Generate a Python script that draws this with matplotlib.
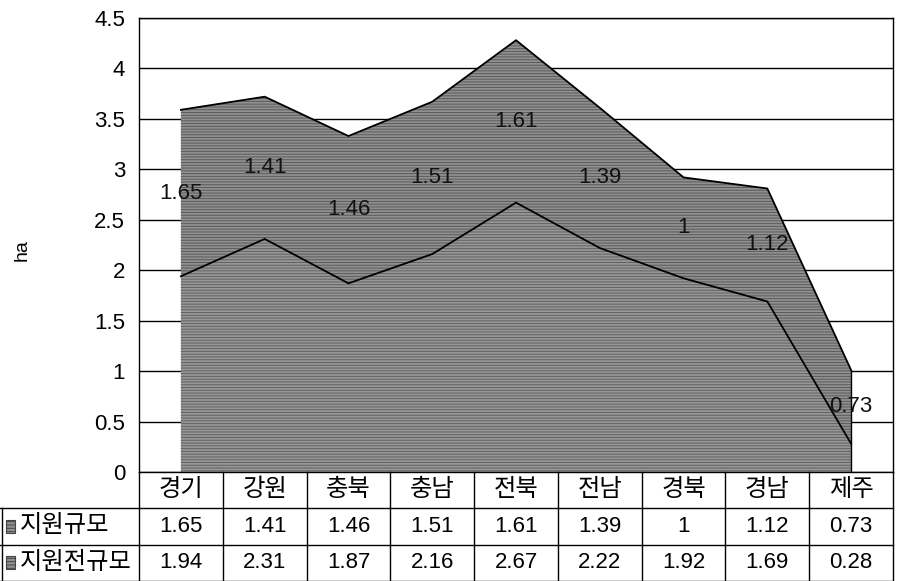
import numpy as np
import matplotlib.pyplot as plt
from matplotlib.patches import Rectangle

plt.rcParams['font.family'] = ['Liberation Sans', 'Noto Sans CJK KR', 'DejaVu Sans']
plt.rcParams['hatch.linewidth'] = 0.7

# regions and the two stacked series (ha)
regions = ['경기', '강원', '충북', '충남', '전북', '전남', '경북', '경남', '제주']
support = [1.65, 1.41, 1.46, 1.51, 1.61, 1.39, 1.00, 1.12, 0.73]      # 지원규모
before = [1.94, 2.31, 1.87, 2.16, 2.67, 2.22, 1.92, 1.69, 0.28]       # 지원전규모
series_names = ['지원규모', '지원전규모']
yticks = [0, 0.5, 1, 1.5, 2, 2.5, 3, 3.5, 4, 4.5]

x = np.arange(len(regions))
before = np.array(before)
support = np.array(support)
total = before + support

NUM_FS = 16
KOR_FS = 17.5

W, H = 898, 581
fig = plt.figure(figsize=(W / 100, H / 100), dpi=100)

# chart area
ax = fig.add_axes([139 / W, 109 / H, 754 / W, 454 / H])
ax.set_xlim(-0.5, 8.5)
ax.set_ylim(0, 4.5)
ax.set_yticks(yticks)
ax.set_yticklabels([f'{v:g}' for v in yticks], fontsize=NUM_FS)
ax.tick_params(axis='y', length=0, pad=10)
ax.set_xticks([])
ax.grid(axis='y', color='black', linewidth=1)
ax.set_axisbelow(True)
for s in ax.spines.values():
    s.set_color('black')
    s.set_linewidth(1)

ax.fill_between(x, 0, before, facecolor='#969696', edgecolor='#626262',
                hatch='------', linewidth=0, zorder=2)
ax.fill_between(x, before, total, facecolor='#909090', edgecolor='#5a5a5a',
                hatch='------', linewidth=0, zorder=2)
ax.plot(x, total, color='black', lw=1.3, zorder=3)
ax.plot(x, before, color='black', lw=1.3, zorder=3)
ax.vlines([x[-1]], 0, total[-1], color='black', lw=1.0, zorder=3)

for xi, b, s in zip(x, before, support):
    ax.text(xi, b + s / 2, f'{s:g}', ha='center', va='center', fontsize=NUM_FS,
            color='#111111', zorder=4)

fig.text(22 / W, 1 - 250 / H, 'ha', rotation=90, ha='center', va='center', fontsize=14)

# data table under the chart
lead = 139 / (754 / 9)
tab = fig.add_axes([0, 0, 893 / W, 109 / H])
left = -0.5 - lead
tab.set_xlim(left, 8.5)
tab.set_ylim(3, 0)
tab.axis('off')

lw = 1.0
for i in range(len(regions) + 1):
    tab.plot([i - 0.5, i - 0.5], [0, 3], color='black', lw=lw, clip_on=False)
tab.plot([left + 0.02, left + 0.02], [1, 3], color='black', lw=lw, clip_on=False)
for r in (1, 2, 3):
    tab.plot([left, 8.5], [r - 0.01 if r == 3 else r] * 2, color='black', lw=lw,
             clip_on=False)

for xi, name in zip(x, regions):
    tab.text(xi, 0.5, name, ha='center', va='center', fontsize=KOR_FS)

rows = [support, before]
for r, (name, vals) in enumerate(zip(series_names, rows), start=1):
    tab.add_patch(Rectangle((left + 0.07, r + 0.32), 0.11, 0.36, facecolor='#909090',
                            edgecolor='#444444', hatch='-----', lw=0.8))
    tab.text(left + 0.24, r + 0.5, name, ha='left', va='center', fontsize=KOR_FS)
    for xi, v in zip(x, vals):
        tab.text(xi, r + 0.5, f'{v:g}', ha='center', va='center', fontsize=NUM_FS)

fig.savefig('out.png', dpi=100)
